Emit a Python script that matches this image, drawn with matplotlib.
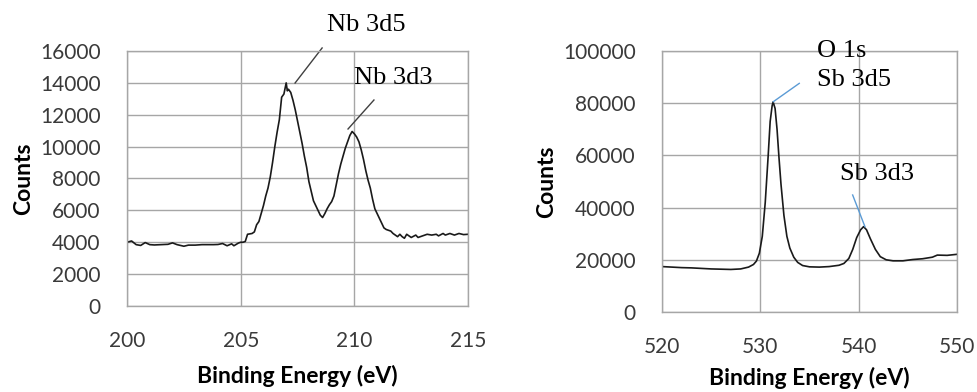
import matplotlib
matplotlib.use("Agg")
import matplotlib.pyplot as plt

# --- Nb 3d region (left panel) ---
nb_energy = [200.0, 200.2, 200.4, 200.6, 200.8, 201.0, 201.2, 201.5, 201.8, 202.0,
             202.2, 202.5, 202.7, 203.0, 203.3, 203.6, 203.8, 204.0, 204.2, 204.4,
             204.6, 204.7, 204.9, 205.0, 205.1, 205.2, 205.3, 205.5, 205.6, 205.7,
             205.8, 205.9, 206.0, 206.1, 206.2, 206.3, 206.4, 206.5, 206.6, 206.7,
             206.8, 206.9, 207.0, 207.05, 207.1, 207.2, 207.3, 207.4, 207.5, 207.6,
             207.7, 207.8, 207.9, 208.0, 208.1, 208.2, 208.3, 208.4, 208.5, 208.6,
             208.7, 208.8, 208.9, 209.0, 209.1, 209.2, 209.3, 209.4, 209.5, 209.6,
             209.7, 209.8, 209.9, 210.0, 210.1, 210.2, 210.3, 210.4, 210.5, 210.6,
             210.7, 210.8, 210.9, 211.0, 211.1, 211.2, 211.3, 211.4, 211.5, 211.6,
             211.7, 211.8, 211.9, 212.0, 212.1, 212.2, 212.3, 212.4, 212.5, 212.7,
             212.8, 213.0, 213.2, 213.4, 213.6, 213.7, 213.9, 214.0, 214.2, 214.4,
             214.6, 214.8, 215.0]
nb_counts = [4000, 4080, 3850, 3800, 3980, 3850, 3830, 3850, 3870, 3960,
             3850, 3750, 3820, 3820, 3850, 3850, 3850, 3860, 3920, 3780,
             3900, 3780, 3950, 4000, 4000, 4050, 4500, 4550, 4650, 5100,
             5300, 5800, 6300, 6900, 7400, 8100, 9000, 10000, 10900, 11700,
             13100, 13300, 14000, 13500, 13600, 13400, 12900, 12300, 11600, 10900,
             10200, 9400, 8700, 7800, 7200, 6600, 6300, 6000, 5700, 5550,
             5800, 6100, 6350, 6550, 6900, 7600, 8300, 8900, 9400, 9900,
             10300, 10700, 10950, 10800, 10600, 10300, 9800, 9200, 8500, 7900,
             7400, 6700, 6100, 5800, 5500, 5200, 4900, 4800, 4750, 4700,
             4550, 4450, 4350, 4500, 4350, 4250, 4500, 4400, 4300, 4450,
             4300, 4400, 4500, 4450, 4500, 4400, 4550, 4450, 4550, 4450,
             4550, 4480, 4500]

# --- O 1s / Sb 3d region (right panel) ---
sb_energy = [520, 521, 522, 523, 524, 525, 526, 527, 528, 528.8,
             529.3, 529.6, 529.9, 530.2, 530.5, 530.8, 531.0, 531.2, 531.3, 531.5,
             531.7, 531.9, 532.1, 532.4, 532.7, 533.0, 533.4, 533.8, 534.3, 535,
             536, 537, 538, 538.5, 539.0, 539.4, 539.8, 540.2, 540.5, 540.8,
             541.2, 541.7, 542.2, 542.8, 543.5, 544.5, 545.5, 546.5, 547.5, 548.0,
             549.0, 550]
sb_counts = [17400, 17200, 17000, 16900, 16700, 16500, 16400, 16300, 16500, 17200,
             18200, 19500, 22500, 29000, 42000, 60000, 73000, 79000, 80500, 78000,
             70000, 59000, 49000, 37000, 29000, 24500, 21000, 19000, 17800, 17300,
             17200, 17400, 17900, 18600, 20500, 24000, 28500, 31500, 32700, 31500,
             28000, 24000, 21200, 20000, 19600, 19600, 20100, 20400, 21000, 21800,
             21700, 22100]

SANS = ["Lato", "DejaVu Sans"]
SERIF = ["Liberation Serif", "DejaVu Serif"]
GRID = "#a6a6a6"
TICK_C = "#3a3a3a"

fig = plt.figure(figsize=(9.78, 3.92), dpi=100)
ax1 = fig.add_axes([0.1299, 0.2194, 0.3487, 0.6505])
ax2 = fig.add_axes([0.6769, 0.2041, 0.3016, 0.6658])


def style_axes(ax, xlim, xticks, ylim, yticks, xpad):
    ax.set_xlim(*xlim)
    ax.set_ylim(*ylim)
    ax.set_xticks(xticks)
    ax.set_yticks(yticks)
    ax.grid(True, color=GRID, linewidth=1.0)
    ax.set_axisbelow(True)
    for s in ax.spines.values():
        s.set_color(GRID)
        s.set_linewidth(1.0)
    ax.tick_params(length=0, labelsize=15, labelcolor=TICK_C)
    ax.tick_params(axis="x", pad=18)
    ax.tick_params(axis="y", pad=19)
    for lbl in ax.get_xticklabels() + ax.get_yticklabels():
        lbl.set_family(SANS)
    ax.set_xlabel("Binding Energy (eV)", family=SANS, fontsize=16.5,
                  fontweight="bold", labelpad=xpad)
    ax.set_ylabel("Counts", family=SANS, fontsize=16.5, fontweight="bold",
                  labelpad=4)


# left panel
ax1.plot(nb_energy, nb_counts, color="#1a1a1a", lw=1.2)
style_axes(ax1, (200, 215), [200, 205, 210, 215], (0, 16000),
           range(0, 16001, 2000), 10)
ax1.plot([207.39, 208.58], [13990, 16190], color="#404040", lw=1.0,
         clip_on=False)
ax1.plot([209.72, 210.86], [11106, 12925], color="#404040", lw=1.0)
ax1.text(210.5, 17630, "Nb 3d5", family=SERIF, fontsize=19, ha="center",
         va="center")
ax1.text(211.7, 14300, "Nb 3d3", family=SERIF, fontsize=19, ha="center",
         va="center")

# right panel
ax2.plot(sb_energy, sb_counts, color="#1a1a1a", lw=1.2)
style_axes(ax2, (520, 550), [520, 530, 540, 550], (0, 100000),
           range(0, 100001, 20000), 7)
ax2.plot([531.32, 533.96], [80570, 87600], color="#5b9bd5", lw=1.0)
ax2.plot([540.64, 539.39], [32690, 44830], color="#5b9bd5", lw=1.0)
ax2.text(535.76, 100000, "O 1s", family=SERIF, fontsize=19, ha="left",
         va="center")
ax2.text(535.76, 88900, "Sb 3d5", family=SERIF, fontsize=19, ha="left",
         va="center")
ax2.text(541.9, 52870, "Sb 3d3", family=SERIF, fontsize=19, ha="center",
         va="center")

fig.savefig("out.png", dpi=100)
